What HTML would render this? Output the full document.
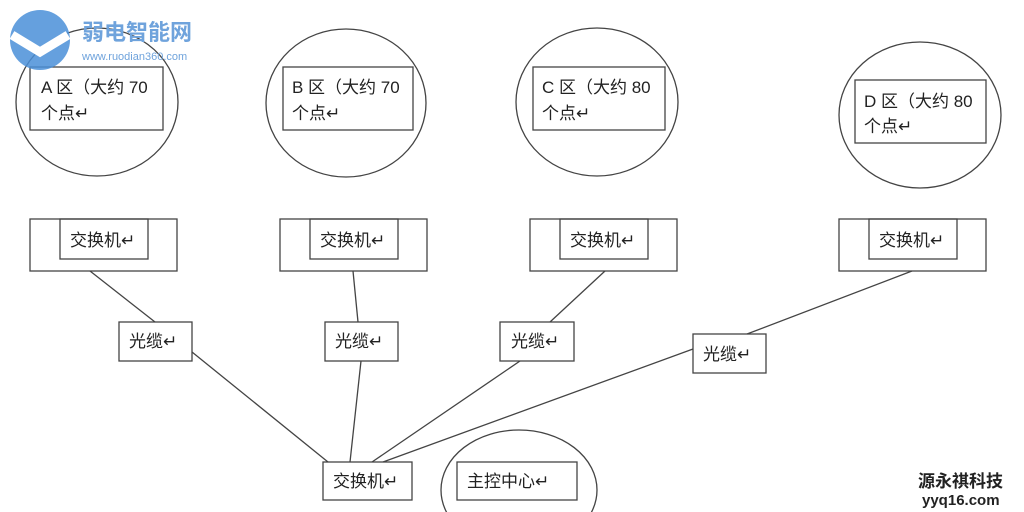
<!DOCTYPE html>
<html><head><meta charset="utf-8"><style>
html,body{margin:0;padding:0;background:#fff;width:1024px;height:512px;overflow:hidden}
svg{display:block}
svg text{font-family:"Liberation Sans","Noto Sans CJK SC",sans-serif;fill:#222}
</style></head><body>
<svg width="1024" height="512" viewBox="0 0 1024 512" xmlns="http://www.w3.org/2000/svg">
<g fill="none" stroke="#444" stroke-width="1.3">
<ellipse cx="97" cy="102" rx="81" ry="74"/>
<ellipse cx="346" cy="103" rx="80" ry="74"/>
<ellipse cx="597" cy="102" rx="81" ry="74"/>
<ellipse cx="920" cy="115" rx="81" ry="73"/>
<ellipse cx="519" cy="490" rx="78" ry="60"/>
<rect x="30" y="67" width="133" height="63"/>
<rect x="283" y="67" width="130" height="63"/>
<rect x="533" y="67" width="132" height="63"/>
<rect x="855" y="80" width="131" height="63"/>
<rect x="30" y="219" width="147" height="52"/><rect x="60" y="219" width="88" height="40"/>
<rect x="280" y="219" width="147" height="52"/><rect x="310" y="219" width="88" height="40"/>
<rect x="530" y="219" width="147" height="52"/><rect x="560" y="219" width="88" height="40"/>
<rect x="839" y="219" width="147" height="52"/><rect x="869" y="219" width="88" height="40"/>
<rect x="119" y="322" width="73" height="39"/>
<rect x="325" y="322" width="73" height="39"/>
<rect x="500" y="322" width="74" height="39"/>
<rect x="693" y="334" width="73" height="39"/>
<rect x="323" y="462" width="89" height="38"/>
<rect x="457" y="462" width="120" height="38"/>
<line x1="90" y1="271" x2="155" y2="322"/>
<line x1="192" y1="352" x2="328" y2="462"/>
<line x1="353" y1="271" x2="358" y2="322"/>
<line x1="361" y1="361" x2="350" y2="462"/>
<line x1="605" y1="271" x2="550" y2="322"/>
<line x1="520" y1="361" x2="372" y2="462"/>
<line x1="912" y1="271" x2="747" y2="334"/>
<line x1="693" y1="349" x2="383" y2="462"/>
</g>
<g font-size="17">
<text x="41" y="93">A 区（大约 70</text><text x="41" y="119">个点↵</text>
<text x="292" y="93">B 区（大约 70</text><text x="292" y="119">个点↵</text>
<text x="542" y="93">C 区（大约 80</text><text x="542" y="119">个点↵</text>
<text x="864" y="107">D 区（大约 80</text><text x="864" y="132">个点↵</text>
<text x="70" y="246">交换机↵</text>
<text x="320" y="246">交换机↵</text>
<text x="570" y="246">交换机↵</text>
<text x="879" y="246">交换机↵</text>
<text x="129" y="347">光缆↵</text>
<text x="335" y="347">光缆↵</text>
<text x="511" y="347">光缆↵</text>
<text x="703" y="360">光缆↵</text>
<text x="333" y="487">交换机↵</text>
<text x="467" y="487">主控中心↵</text>
</g>
<g>
<circle cx="40" cy="40" r="30" fill="#4a8fd8" opacity="0.85"/>
<path d="M12 35 L40 52 L68 35" stroke="#fff" stroke-width="9" fill="none"/>
<text x="82" y="40" font-size="22" font-weight="bold" style="fill:#6fa3dc">弱电智能网</text>
<text x="82" y="60" font-size="11" style="fill:#6fa3dc">www.ruodian360.com</text>
<text x="918" y="487" font-size="17" font-weight="bold" style="fill:#222">源永祺科技</text>
<text x="922" y="505" font-size="15" font-weight="bold" style="fill:#222">yyq16.com</text>
</g>
</svg>
</body></html>
